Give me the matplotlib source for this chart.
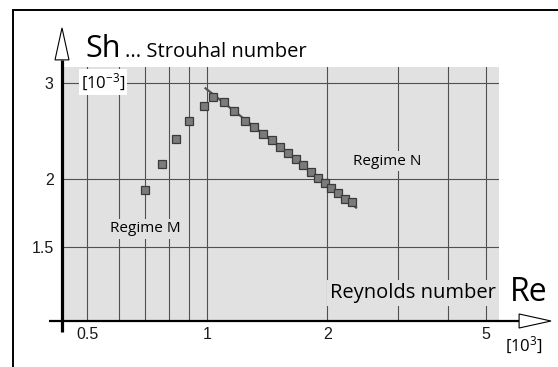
import matplotlib
matplotlib.use("Agg")
import matplotlib.pyplot as plt
from matplotlib.patches import Polygon, Rectangle

# Strouhal number vs Reynolds number (both in 10^-3 / 10^3 units)
re_m = [0.70, 0.77, 0.835, 0.90, 0.983]
sh_m = [1.91, 2.13, 2.36, 2.55, 2.72]

re_n = [1.035, 1.10, 1.167, 1.243, 1.311, 1.382, 1.45, 1.521, 1.594, 1.669,
        1.737, 1.819, 1.894, 1.972, 2.042, 2.126, 2.213, 2.305]
sh_n = [2.83, 2.77, 2.66, 2.556, 2.485, 2.412, 2.355, 2.29, 2.231, 2.17,
        2.116, 2.06, 2.008, 1.961, 1.922, 1.882, 1.838, 1.809]

fit_re = [0.99, 2.36]
fit_sh = [2.93, 1.77]

x_major = [0.5, 1, 2, 5]
x_major_labels = ["0.5", "1", "2", "5"]
x_minor = [0.6, 0.7, 0.8, 0.9, 3, 4]
y_major = [1.5, 2, 3]
y_major_labels = ["1.5", "2", "3"]

label_font = "Open Sans"
tick_font = "Liberation Sans"
plt.rcParams["mathtext.default"] = "regular"

fig = plt.figure(figsize=(5.58, 3.67), dpi=100)
ax = fig.add_axes([62 / 558, 1 - 321 / 367, 437 / 558, 254 / 367])
ax.set_facecolor("#e1e1e1")

ax.set_xscale("log")
ax.set_yscale("log")
ax.set_xlim(0.4324, 5.384)
ax.set_ylim(1.096, 3.206)

ax.set_xticks(x_major)
ax.set_xticklabels(x_major_labels)
ax.set_xticks(x_minor, minor=True)
ax.set_xticklabels([], minor=True)
ax.set_yticks(y_major)
ax.set_yticklabels(y_major_labels)
ax.set_yticks([], minor=True)
ax.tick_params(which="both", length=0, labelsize=11.5, labelcolor="#1a1a1a")
ax.tick_params(axis="x", pad=4)
ax.tick_params(axis="y", pad=6)
for lab in ax.get_xticklabels() + ax.get_yticklabels():
    lab.set_fontfamily(tick_font)

ax.grid(True, which="both", axis="x", color="#505050", linewidth=0.8)
ax.grid(True, which="major", axis="y", color="#505050", linewidth=0.8)
ax.set_axisbelow(True)
for s in ax.spines.values():
    s.set_visible(False)

# data
ax.plot(fit_re, fit_sh, color="#555555", linewidth=1.6, zorder=3)
ax.plot(re_m + re_n, sh_m + sh_n, linestyle="none", marker="s", markersize=6.2,
        markerfacecolor="#7b7b7b", markeredgecolor="#3a3a3a", markeredgewidth=0.9,
        zorder=4)

# axes with hollow arrow heads
ax.plot([0, 0], [-0.042, 1.028], transform=ax.transAxes, color="black",
        linewidth=2.3, clip_on=False, zorder=5, solid_capstyle="butt")
ax.plot([-0.030, 1.046], [0, 0], transform=ax.transAxes, color="black",
        linewidth=1.6, clip_on=False, zorder=5, solid_capstyle="butt")
ax.add_patch(Polygon([[-0.016, 1.028], [0.016, 1.028], [0, 1.154]], closed=True,
                     facecolor="white", edgecolor="black", linewidth=0.8,
                     transform=ax.transAxes, clip_on=False, zorder=6))
ax.add_patch(Polygon([[1.046, -0.0276], [1.046, 0.0276], [1.119, 0]], closed=True,
                     facecolor="white", edgecolor="black", linewidth=0.8,
                     transform=ax.transAxes, clip_on=False, zorder=6))

# labels
ax.text(0.0526, 1.0406, "Sh", transform=ax.transAxes, fontsize=22,
        family=label_font, va="baseline", ha="left")
ax.text(0.1442, 1.0406, "... Strouhal number", transform=ax.transAxes,
        fontsize=14.5, family=label_font, va="baseline", ha="left")
ax.text(0.0938, 0.941, "[10$^{-3}$]", transform=ax.transAxes, fontsize=12,
        family=label_font, va="center", ha="center", zorder=5,
        bbox=dict(facecolor="white", edgecolor="none", pad=1.5))
ax.text(0.698, 1.617, "Regime M", fontsize=11, family=label_font,
        va="center", ha="center", zorder=5,
        bbox=dict(facecolor="#e1e1e1", edgecolor="none", pad=2))
ax.text(2.82, 2.154, "Regime N", fontsize=11, family=label_font,
        va="center", ha="center", zorder=5,
        bbox=dict(facecolor="#e1e1e1", edgecolor="none", pad=2))
ax.text(0.993, 0.111, "Reynolds number", transform=ax.transAxes, fontsize=14.5,
        family=label_font, va="center", ha="right", zorder=5,
        bbox=dict(facecolor="#e1e1e1", edgecolor="none", pad=2))
ax.text(1.025, 0.114, "Re", transform=ax.transAxes, fontsize=23,
        family=label_font, va="center", ha="left", zorder=5,
        bbox=dict(facecolor="white", edgecolor="none", pad=1))
ax.text(1.057, -0.0945, "[10$^{3}$]", transform=ax.transAxes, fontsize=12,
        family=label_font, va="center", ha="center")

# frame around the figure
fig.patches.append(Rectangle((13 / 558, -0.05), 1.1, 0.05 + 1 - 10 / 367,
                             transform=fig.transFigure, fill=False,
                             edgecolor="black", linewidth=1.4))

fig.savefig("out.png", dpi=100)
